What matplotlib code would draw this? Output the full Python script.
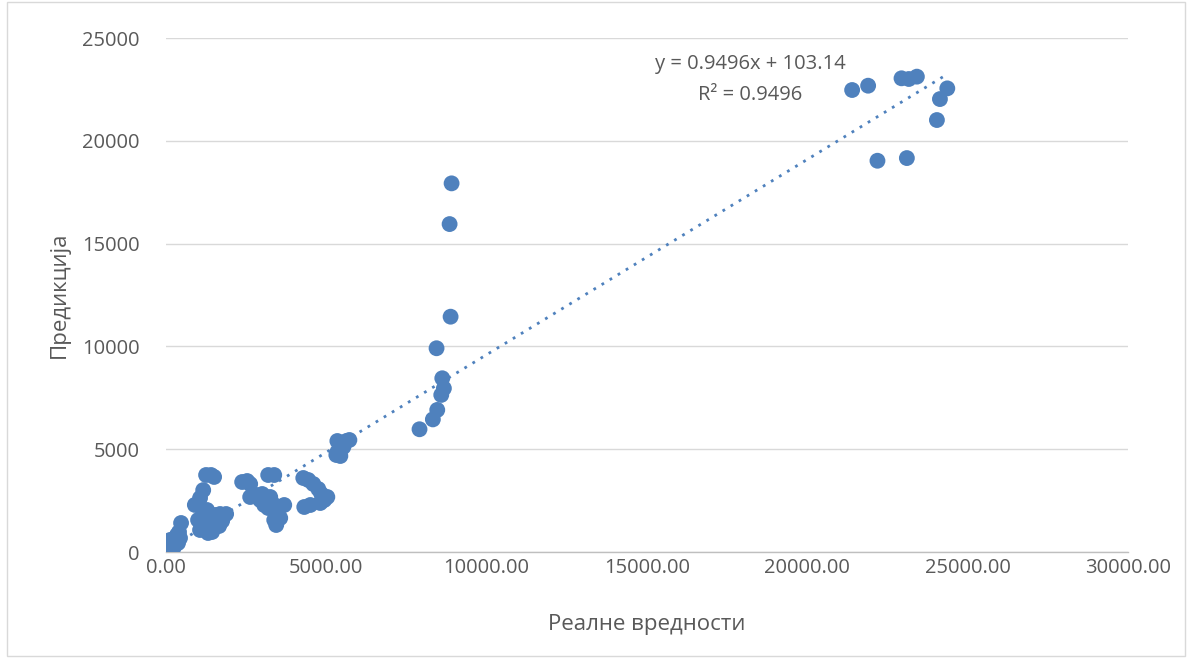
import matplotlib
matplotlib.use("Agg")
import matplotlib.pyplot as plt
import numpy as np

plt.rcParams['font.family'] = ['Open Sans', 'DejaVu Sans']

# Real values (x) and predictions (y)
real = [
    10, 31, 62, 94, 125, 156, 187, 219, 250, 281, 344, 375, 406, 437, 470,
    900, 1062, 1160, 1250, 1406, 1500,
    1000, 1062, 1219, 1375, 1531, 1687, 1750, 1437, 1312, 1656, 1156, 1281, 1875,
    2375, 2531, 2625, 3187, 3375,
    2625, 2812, 2937, 3062, 3187, 3312, 3406, 3437, 3375, 3562, 3687, 3000, 3250,
    4281, 4437, 4594, 4750, 4844, 4937, 5031, 4812, 4500, 4312,
    5344, 5469, 5625, 5719, 5344, 5437, 5312, 5531,
    7906, 8322, 8459, 8584, 8666, 8616, 8437, 8875, 8844, 8906,
    21397, 21896, 22937, 23166, 23416, 24365, 24135, 24041, 22187, 23104,
]
pred = [
    20, 97, 340, 243, 584, 389, 97, 535, 243, 681, 827, 438, 973, 681, 1410,
    2290, 2627, 3010, 3745, 3745, 3650,
    1556, 1070, 1167, 1556, 1800, 1848, 1508, 973, 924, 1265, 1946, 2043, 1848,
    3405, 3453, 3307, 3745, 3745,
    2675, 2772, 2529, 2286, 2140, 2383, 1946, 1313, 1556, 1654, 2286, 2821, 2675,
    3599, 3502, 3307, 3064, 2821, 2529, 2675, 2383, 2286, 2189,
    5399, 5302, 5399, 5448, 4864, 4669, 4718, 5107,
    5970, 6450, 6910, 7640, 7960, 8450, 9910, 11445, 15950, 17930,
    22470, 22680, 23040, 23006, 23120, 22550, 22030, 21010, 19030, 19160,
]

slope = 0.9496
intercept = 103.14
r2 = 0.9496

x_ticks = [0, 5000, 10000, 15000, 20000, 25000, 30000]
y_ticks = [0, 5000, 10000, 15000, 20000, 25000]
x_label = "Реалне вредности"
y_label = "Предикција"

blue = '#4F81BD'
txt = '#595959'

fig = plt.figure(figsize=(11.9, 6.64), dpi=100)
ax = fig.add_axes([166/1190, 1 - 552/664, (1128-166)/1190, (552-38)/664])

ax.scatter(real, pred, s=130, color=blue, edgecolors='none', zorder=3)

xs = np.array([0, max(real)])
ax.plot(xs, slope * xs + intercept, color=blue, linestyle=(0, (1, 2.4)),
        linewidth=2, zorder=2)

ax.set_xlim(0, 30000)
ax.set_ylim(0, 25000)
ax.set_xticks(x_ticks)
ax.set_xticklabels([f"{v:.2f}" for v in x_ticks])
ax.set_yticks(y_ticks)
ax.set_yticklabels([str(v) for v in y_ticks])
ax.grid(axis='y', color='#d9d9d9', linewidth=1)
ax.set_axisbelow(True)
for s in ['top', 'right', 'left']:
    ax.spines[s].set_visible(False)
ax.spines['bottom'].set_color('#bfbfbf')
ax.spines['bottom'].set_linewidth(1)
ax.tick_params(axis='both', length=0, labelsize=14.5, colors=txt)
ax.tick_params(axis='y', pad=19)
ax.tick_params(axis='x', pad=4)
ax.set_xlabel(x_label, fontsize=16, color=txt, labelpad=26)
ax.set_ylabel(y_label, fontsize=16, color=txt, labelpad=9)

ax.text(0.607, 0.949, f"y = {slope}x + {intercept}",
        transform=ax.transAxes, ha='center', va='center', fontsize=14.5, color=txt)
ax.text(0.607, 0.889, f"R² = {r2}",
        transform=ax.transAxes, ha='center', va='center', fontsize=14.5, color=txt)

fig.patches.append(plt.Rectangle((0.006, 0.012), 0.99, 0.985, transform=fig.transFigure,
                                 fill=False, edgecolor='#d9d9d9', linewidth=1))

fig.savefig("out.png", dpi=100, facecolor='white')
